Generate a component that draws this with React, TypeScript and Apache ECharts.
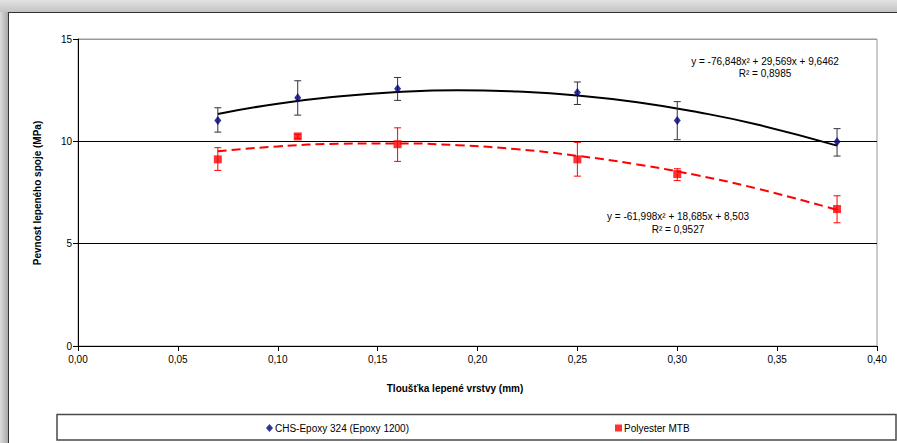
import React, { useEffect, useRef } from "react";
import * as echarts from "echarts";

// Measured points (x = thickness mm, y = strength MPa)
const chsX = [0.07, 0.11, 0.16, 0.25, 0.3, 0.38];
const chsY = [11.02, 12.13, 12.57, 12.38, 11.02, 9.98];
const chsLow = [10.45, 11.28, 12.0, 11.8, 10.08, 9.28];
const chsHigh = [11.64, 12.96, 13.12, 12.9, 11.94, 10.62];

const polyX = [0.07, 0.11, 0.16, 0.25, 0.3, 0.38];
const polyY = [9.12, 10.24, 9.86, 9.12, 8.4, 6.69];
const polyLow = [8.58, 10.14, 9.02, 8.3, 8.08, 6.02];
const polyHigh = [9.69, 10.34, 10.66, 9.95, 8.66, 7.34];

// Trend curve points read along the drawn polynomial trendlines
const trendX = [0.07, 0.1, 0.13, 0.16, 0.19, 0.22, 0.25, 0.28, 0.31, 0.34, 0.38];
const chsTrendY = [11.34, 11.84, 12.19, 12.41, 12.50, 12.43, 12.24, 11.91, 11.43, 10.82, 9.79];
const polyTrendY = [9.51, 9.75, 9.88, 9.9, 9.81, 9.61, 9.29, 8.87, 8.34, 7.69, 6.65];

const xTicks = [0, 0.05, 0.1, 0.15, 0.2, 0.25, 0.3, 0.35, 0.4];
const yTicks = [0, 5, 10, 15];

const chsName = "CHS-Epoxy 324 (Epoxy 1200)";
const polyName = "Polyester MTB";
const chsEq = "y = -76,848x² + 29,569x + 9,6462";
const chsR2 = "R² = 0,8985";
const polyEq = "y = -61,998x² + 18,685x + 8,503";
const polyR2 = "R² = 0,9527";
const xTitle = "Tloušťka lepené vrstvy (mm)";
const yTitle = "Pevnost lepeného spoje (MPa)";

const FONT = "'Liberation Sans', Arial, sans-serif";

function errorSeries(xs: number[], lo: number[], hi: number[], color: string) {
  return {
    type: "custom",
    silent: true,
    z: 3,
    data: xs.map((x, i) => [x, lo[i], hi[i]]),
    renderItem: (_p: any, api: any) => {
      const x = api.value(0);
      const a = api.coord([x, api.value(1)]);
      const b = api.coord([x, api.value(2)]);
      const w = 3.5;
      const st = { stroke: color, lineWidth: 1 };
      return {
        type: "group",
        children: [
          { type: "line", shape: { x1: a[0], y1: a[1], x2: b[0], y2: b[1] }, style: st },
          { type: "line", shape: { x1: a[0] - w, y1: a[1], x2: a[0] + w, y2: a[1] }, style: st },
          { type: "line", shape: { x1: b[0] - w, y1: b[1], x2: b[0] + w, y2: b[1] }, style: st },
        ],
      };
    },
  };
}

export default function App() {
  const ref = useRef<HTMLDivElement>(null);
  useEffect(() => {
    if (!ref.current) return;
    const chart = echarts.init(ref.current, null, { renderer: "svg" });
    chart.setOption({
      animation: false,
      backgroundColor: "transparent",
      textStyle: { fontFamily: FONT },
      grid: {
        left: 78,
        right: 20,
        top: 39,
        bottom: 97,
        show: true,
        borderColor: "#9a9a9a",
        borderWidth: 1,
        backgroundColor: "#fff",
      },
      xAxis: {
        type: "value",
        min: 0,
        max: 0.4,
        interval: 0.05,
        axisLine: { show: true, lineStyle: { color: "#000", width: 1 } },
        axisTick: { show: true, length: 5, lineStyle: { color: "#000" } },
        splitLine: { show: false },
        axisLabel: {
          color: "#000",
          fontSize: 10,
          fontFamily: FONT,
          margin: 8,
          formatter: (v: number) => {
            const t = xTicks.find((k) => Math.abs(k - v) < 1e-9);
            return (t !== undefined ? t : v).toFixed(2).replace(".", ",");
          },
        },
      },
      yAxis: {
        type: "value",
        min: 0,
        max: 15,
        interval: 5,
        axisLine: { show: true, lineStyle: { color: "#000", width: 1 } },
        axisTick: { show: true, length: 5, lineStyle: { color: "#000" } },
        splitLine: {
          show: true,
          lineStyle: { color: ["#000", "#000", "#000", "#9a9a9a"], width: 1 },
        },
        axisLabel: {
          color: "#000",
          fontSize: 10,
          fontFamily: FONT,
          margin: 6,
          formatter: (v: number) => String(yTicks.find((k) => k === v) ?? v),
        },
      },
      legend: [
        {
          data: [{ name: chsName, icon: "diamond" }],
          left: 266,
          top: 423,
          itemWidth: 7,
          itemHeight: 8,
          itemGap: 2,
          padding: 0,
          textStyle: { fontSize: 10, color: "#000", fontFamily: FONT, padding: [0, 0, 0, -3] },
        },
        {
          data: [{ name: polyName, icon: "rect" }],
          left: 615,
          top: 423,
          itemWidth: 7,
          itemHeight: 7,
          padding: 0,
          textStyle: { fontSize: 10, color: "#000", fontFamily: FONT, padding: [0, 0, 0, -3] },
        },
      ],
      graphic: [
        {
          type: "rect",
          shape: { x: 57, y: 414.5, width: 839, height: 25.5 },
          style: { fill: "none", stroke: "#4a4a4a", lineWidth: 1.5 },
          silent: true,
        },
        {
          type: "text",
          x: 455,
          y: 388,
          style: {
            text: xTitle,
            font: `bold 10px ${FONT}`,
            fill: "#000",
            textAlign: "center",
            textVerticalAlign: "middle",
          },
        },
        {
          type: "text",
          x: 37,
          y: 193,
          rotation: Math.PI / 2,
          style: {
            text: yTitle,
            font: `bold 10px ${FONT}`,
            fill: "#000",
            textAlign: "center",
            textVerticalAlign: "middle",
          },
        },
        {
          type: "text",
          x: 765,
          y: 61.5,
          style: { text: chsEq, font: `10px ${FONT}`, fill: "#000", textAlign: "center", textVerticalAlign: "middle" },
        },
        {
          type: "text",
          x: 765,
          y: 73.5,
          style: { text: chsR2, font: `10px ${FONT}`, fill: "#000", textAlign: "center", textVerticalAlign: "middle" },
        },
        {
          type: "text",
          x: 678,
          y: 216,
          style: { text: polyEq, font: `10px ${FONT}`, fill: "#000", textAlign: "center", textVerticalAlign: "middle" },
        },
        {
          type: "text",
          x: 678,
          y: 229,
          style: { text: polyR2, font: `10px ${FONT}`, fill: "#000", textAlign: "center", textVerticalAlign: "middle" },
        },
      ],
      series: [
        {
          name: "chsTrend",
          type: "line",
          data: trendX.map((x, i) => [x, chsTrendY[i]]),
          smooth: true,
          showSymbol: false,
          silent: true,
          z: 2,
          lineStyle: { color: "#000", width: 2 },
        },
        {
          name: "polyTrend",
          type: "line",
          data: trendX.map((x, i) => [x, polyTrendY[i]]),
          smooth: true,
          showSymbol: false,
          silent: true,
          z: 2,
          lineStyle: { color: "#ff0000", width: 2, type: [9, 5] },
        },
        errorSeries(chsX, chsLow, chsHigh, "#333"),
        errorSeries(polyX, polyLow, polyHigh, "#ff0000"),
        {
          name: chsName,
          type: "scatter",
          data: chsX.map((x, i) => [x, chsY[i]]),
          symbol: "diamond",
          symbolSize: [7, 9],
          z: 5,
          itemStyle: { color: "#000080" },
        },
        {
          name: polyName,
          type: "scatter",
          data: polyX.map((x, i) => [x, polyY[i]]),
          symbol: "rect",
          symbolSize: [8, 8],
          z: 5,
          itemStyle: { color: "#ff0000" },
        },
      ],
    });
    return () => chart.dispose();
  }, []);

  return (
    <div
      style={{
        position: "fixed",
        left: 0,
        top: 0,
        width: 897,
        height: 443,
        overflow: "hidden",
        background: "linear-gradient(to bottom, #e2e2e2 0px, #c4c4c4 12px)",
      }}
    >
      <div
        style={{
          position: "absolute",
          left: 0,
          top: 12,
          width: 8,
          height: 431,
          background: "linear-gradient(to right, #dcdcdc, #a8a8a8)",
        }}
      />
      <div
        style={{
          position: "absolute",
          left: 8,
          top: 12,
          width: 900,
          height: 440,
          background: "#fff",
          borderLeft: "1.5px solid #333",
          borderTop: "1.5px solid #333",
        }}
      />
      <div ref={ref} style={{ position: "absolute", left: 0, top: 0, width: 897, height: 443 }} />
    </div>
  );
}
